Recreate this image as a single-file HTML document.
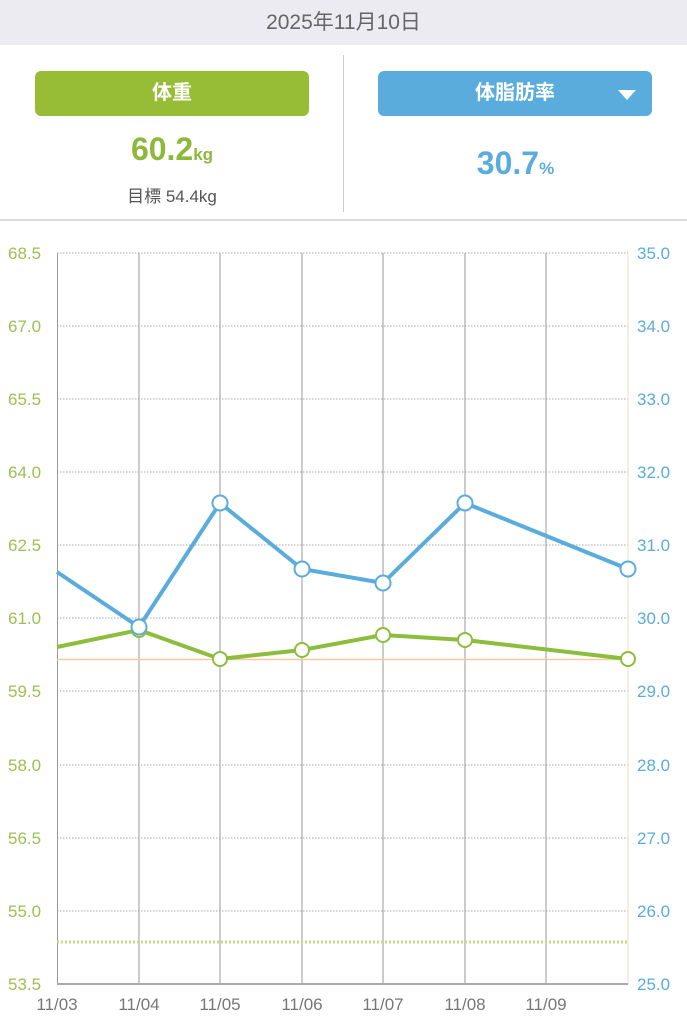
<!DOCTYPE html>
<html><head><meta charset="utf-8"><style>
body{margin:0;width:687px;height:1024px;overflow:hidden;background:#fff;font-family:"Liberation Sans","Noto Sans CJK JP",sans-serif;position:relative}
.hdr{position:absolute;left:0;top:0;width:687px;height:45px;background:#ebebf1;color:#666;font-size:21px;text-align:center;line-height:45px}
.btn{position:absolute;top:71px;height:45px;border-radius:6px;color:#fff;font-size:20px;font-weight:bold;text-align:center;line-height:45px}
.abs{position:absolute}
</style></head><body>
<div class="hdr">2025年11月10日</div>
<div class="btn" style="left:35px;width:274px;background:#97bd37">体重</div>
<div class="btn" style="left:378px;width:274px;background:#5aacdc">体脂肪率<span style="position:absolute;right:16px;top:19px;width:0;height:0;border-left:9px solid transparent;border-right:9px solid transparent;border-top:10px solid #fff"></span></div>
<div class="abs" style="left:0;width:344px;top:131px;text-align:center;color:#8db83a;font-size:32px;font-weight:bold">60.2<span style="font-size:17px">kg</span></div>
<div class="abs" style="left:0;width:344px;top:182px;text-align:center;color:#555;font-size:17px">目標 54.4kg</div>
<div class="abs" style="left:344px;width:343px;top:145px;text-align:center;color:#5aacdc;font-size:32px;font-weight:bold">30.7<span style="font-size:17px">%</span></div>
<div class="abs" style="left:343px;top:55px;width:1px;height:157px;background:#ccc"></div>
<div class="abs" style="left:0;top:219px;width:687px;height:2px;background:#ddd"></div>
<svg class="abs" style="left:0;top:0" width="687" height="1024">
<g stroke="#aaa" stroke-width="1" stroke-dasharray="1.5,1.5">
<line x1="57" x2="628" y1="253" y2="253"/><line x1="57" x2="628" y1="326" y2="326"/><line x1="57" x2="628" y1="399" y2="399"/><line x1="57" x2="628" y1="472" y2="472"/><line x1="57" x2="628" y1="545" y2="545"/><line x1="57" x2="628" y1="618" y2="618"/><line x1="57" x2="628" y1="691" y2="691"/><line x1="57" x2="628" y1="765" y2="765"/><line x1="57" x2="628" y1="838" y2="838"/><line x1="57" x2="628" y1="911" y2="911"/>
</g>
<g stroke="#999" stroke-width="1"><line x1="57.5" x2="57.5" y1="253" y2="984"/><line x1="139" x2="139" y1="253" y2="984"/><line x1="220" x2="220" y1="253" y2="984"/><line x1="302" x2="302" y1="253" y2="984"/><line x1="383" x2="383" y1="253" y2="984"/><line x1="465" x2="465" y1="253" y2="984"/><line x1="546" x2="546" y1="253" y2="984"/></g>
<line x1="628" x2="628" y1="253" y2="984" stroke="#f5dcc0"/>
<line x1="57" x2="628" y1="984" y2="984" stroke="#aaa" stroke-width="2"/>
<line x1="57" x2="628" y1="659.5" y2="659.5" stroke="#f7c9a0" stroke-width="1.5"/>
<line x1="57" x2="628" y1="942" y2="942" stroke="#c5dc80" stroke-width="3" stroke-dasharray="2,2"/>
<polyline fill="none" stroke="#8cbd3c" stroke-width="4" points="57,647 139,630 220,659 302,650 383,635 465,640 628,659"/>
<polyline fill="none" stroke="#5aacdc" stroke-width="4" points="57,572 139,627 220,503 302,569 383,583 465,503 628,569"/>
<g fill="#fff" stroke="#8cbd3c" stroke-width="2"><circle cx="139" cy="630" r="7"/><circle cx="220" cy="659" r="7"/><circle cx="302" cy="650" r="7"/><circle cx="383" cy="635" r="7"/><circle cx="465" cy="640" r="7"/><circle cx="628" cy="659" r="7"/></g>
<g fill="#fff" stroke="#5aacdc" stroke-width="2"><circle cx="139" cy="627" r="7.5"/><circle cx="220" cy="503" r="7.5"/><circle cx="302" cy="569" r="7.5"/><circle cx="383" cy="583" r="7.5"/><circle cx="465" cy="503" r="7.5"/><circle cx="628" cy="569" r="7.5"/></g>
<g fill="#9cc151" font-size="17" font-family="Liberation Sans,sans-serif"><text x="8" y="259">68.5</text><text x="8" y="332">67.0</text><text x="8" y="405">65.5</text><text x="8" y="478">64.0</text><text x="8" y="551">62.5</text><text x="8" y="624">61.0</text><text x="8" y="697">59.5</text><text x="8" y="771">58.0</text><text x="8" y="844">56.5</text><text x="8" y="917">55.0</text><text x="8" y="990">53.5</text></g>
<g fill="#5aacdc" font-size="17" font-family="Liberation Sans,sans-serif"><text x="637" y="259">35.0</text><text x="637" y="332">34.0</text><text x="637" y="405">33.0</text><text x="637" y="478">32.0</text><text x="637" y="551">31.0</text><text x="637" y="624">30.0</text><text x="637" y="697">29.0</text><text x="637" y="771">28.0</text><text x="637" y="844">27.0</text><text x="637" y="917">26.0</text><text x="637" y="990">25.0</text></g>
<g fill="#777" font-size="17" font-family="Liberation Sans,sans-serif" text-anchor="middle"><text x="57" y="1010">11/03</text><text x="139" y="1010">11/04</text><text x="220" y="1010">11/05</text><text x="302" y="1010">11/06</text><text x="383" y="1010">11/07</text><text x="465" y="1010">11/08</text><text x="546" y="1010">11/09</text></g>
</svg>
</body></html>
